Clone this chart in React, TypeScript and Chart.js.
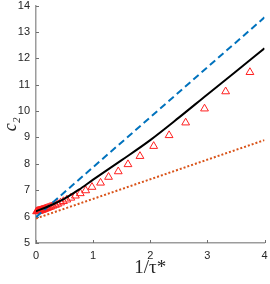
import React, { useEffect, useRef } from "react";
import { Chart, registerables } from "chart.js";

Chart.register(...registerables);

// Reference-read data
const triX = [3.745, 3.32, 2.95, 2.62, 2.33, 2.06, 1.82, 1.61, 1.44, 1.27, 1.13, 0.98, 0.87, 0.775, 0.69, 0.61, 0.54, 0.48, 0.43, 0.38, 0.34, 0.3, 0.265, 0.235, 0.21, 0.185, 0.165, 0.145, 0.13, 0.115, 0.1, 0.09, 0.08, 0.07, 0.06, 0.05, 0.04, 0.03, 0.02, 0.01];
const triY = [11.47, 10.74, 10.09, 9.56, 9.08, 8.67, 8.29, 7.98, 7.71, 7.5, 7.28, 7.12, 6.99, 6.88, 6.79, 6.71, 6.64, 6.58, 6.53, 6.48, 6.44, 6.41, 6.38, 6.355, 6.335, 6.315, 6.3, 6.285, 6.27, 6.26, 6.25, 6.24, 6.235, 6.23, 6.22, 6.215, 6.21, 6.205, 6.2, 6.195];

const solidX = [0, 0.25, 0.5, 0.75, 1, 1.5, 2, 2.5, 3, 3.5, 4];
const solidY = [6.2, 6.42, 6.68, 7.02, 7.4, 8.14, 8.9, 9.75, 10.63, 11.5, 12.38];

const dashedX = [0, 4];
const dashedY = [5.98, 13.55];

const dottedX = [0, 4];
const dottedY = [5.93, 8.9];

const xTicks = [0, 1, 2, 3, 4];
const yTicks = [5, 6, 7, 8, 9, 10, 11, 12, 13, 14];

const zip = (xs: number[], ys: number[]) => xs.map((x, i) => ({ x, y: ys[i] }));

const inwardTicks = {
  id: "inwardTicks",
  afterDatasetsDraw(chart: any) {
    const { ctx, chartArea, scales } = chart;
    ctx.save();
    ctx.strokeStyle = "#707070";
    ctx.lineWidth = 1;
    ctx.beginPath();
    xTicks.forEach((v) => {
      const px = Math.round(scales.x.getPixelForValue(v)) + 0.5;
      ctx.moveTo(px, chartArea.bottom);
      ctx.lineTo(px, chartArea.bottom - 3);
    });
    yTicks.forEach((v) => {
      const py = Math.round(scales.y.getPixelForValue(v)) + 0.5;
      ctx.moveTo(chartArea.left, py);
      ctx.lineTo(chartArea.left + 3, py);
    });
    ctx.stroke();
    ctx.restore();
  },
};

export default function App() {
  const ref = useRef<HTMLCanvasElement | null>(null);
  useEffect(() => {
    if (!ref.current) return;
    const chart = new Chart(ref.current, {
      type: "scatter",
      data: {
        datasets: [
          {
            data: zip(triX, triY),
            showLine: false,
            pointStyle: "triangle",
            pointRadius: 4.5,
            pointBorderWidth: 1,
            pointBorderColor: "#ff2020",
            pointBackgroundColor: "rgba(0,0,0,0)",
            clip: false as any,
            order: 4,
          },
          {
            data: zip(dottedX, dottedY),
            showLine: true,
            borderColor: "#D95319",
            borderWidth: 2,
            borderDash: [2, 2],
            pointRadius: 0,
            order: 3,
          },
          {
            data: zip(dashedX, dashedY),
            showLine: true,
            borderColor: "#0072BD",
            borderWidth: 2,
            borderDash: [7, 4],
            pointRadius: 0,
            order: 2,
          },
          {
            data: zip(solidX, solidY),
            showLine: true,
            borderColor: "#000000",
            borderWidth: 2,
            pointRadius: 0,
            tension: 0.3,
            cubicInterpolationMode: "monotone",
            order: 1,
          },
        ],
      },
      options: {
        animation: false,
        responsive: false,
        layout: { padding: { top: 5, right: 3, left: 0, bottom: 0 } },
        plugins: { legend: { display: false }, tooltip: { enabled: false } },
        scales: {
          x: {
            type: "linear",
            min: 0,
            max: 4,
            afterFit: (s: any) => {
              s.height = 41;
              s.paddingLeft = 0;
              s.paddingRight = 0;
            },
            afterBuildTicks: (s: any) => { s.ticks = xTicks.map((v) => ({ value: v })); },
            grid: { display: false, drawTicks: false },
            border: { display: true, color: "#9c9c9c", width: 1.5 },
            ticks: { color: "#262626", padding: 6, font: { family: "Liberation Sans", size: 11 } },
            title: {
              display: true,
              text: "1/τ*",
              color: "#262626",
              font: { family: "Liberation Serif", size: 19 },
              padding: { top: 0, bottom: 5 },
            },
          },
          y: {
            type: "linear",
            min: 5,
            max: 14,
            afterFit: (s: any) => {
              s.width = 36;
              s.paddingTop = 0;
              s.paddingBottom = 0;
            },
            afterBuildTicks: (s: any) => { s.ticks = yTicks.map((v) => ({ value: v })); },
            grid: { display: false, drawTicks: false },
            border: { display: true, color: "#9c9c9c", width: 1.5 },
            ticks: { color: "#262626", padding: 6, font: { family: "Liberation Sans", size: 11 } },
            title: {
              display: true,
              text: "c₂",
              color: "#262626",
              font: { family: "Liberation Serif", size: 18, style: "italic" },
              padding: { top: 0, bottom: 0 },
            },
          },
        },
      },
      plugins: [inwardTicks],
    });
    return () => chart.destroy();
  }, []);
  return (
    <div style={{ position: "fixed", left: 0, top: 0, width: 270, height: 284, background: "#fff" }}>
      <canvas ref={ref} width={270} height={284} />
    </div>
  );
}
